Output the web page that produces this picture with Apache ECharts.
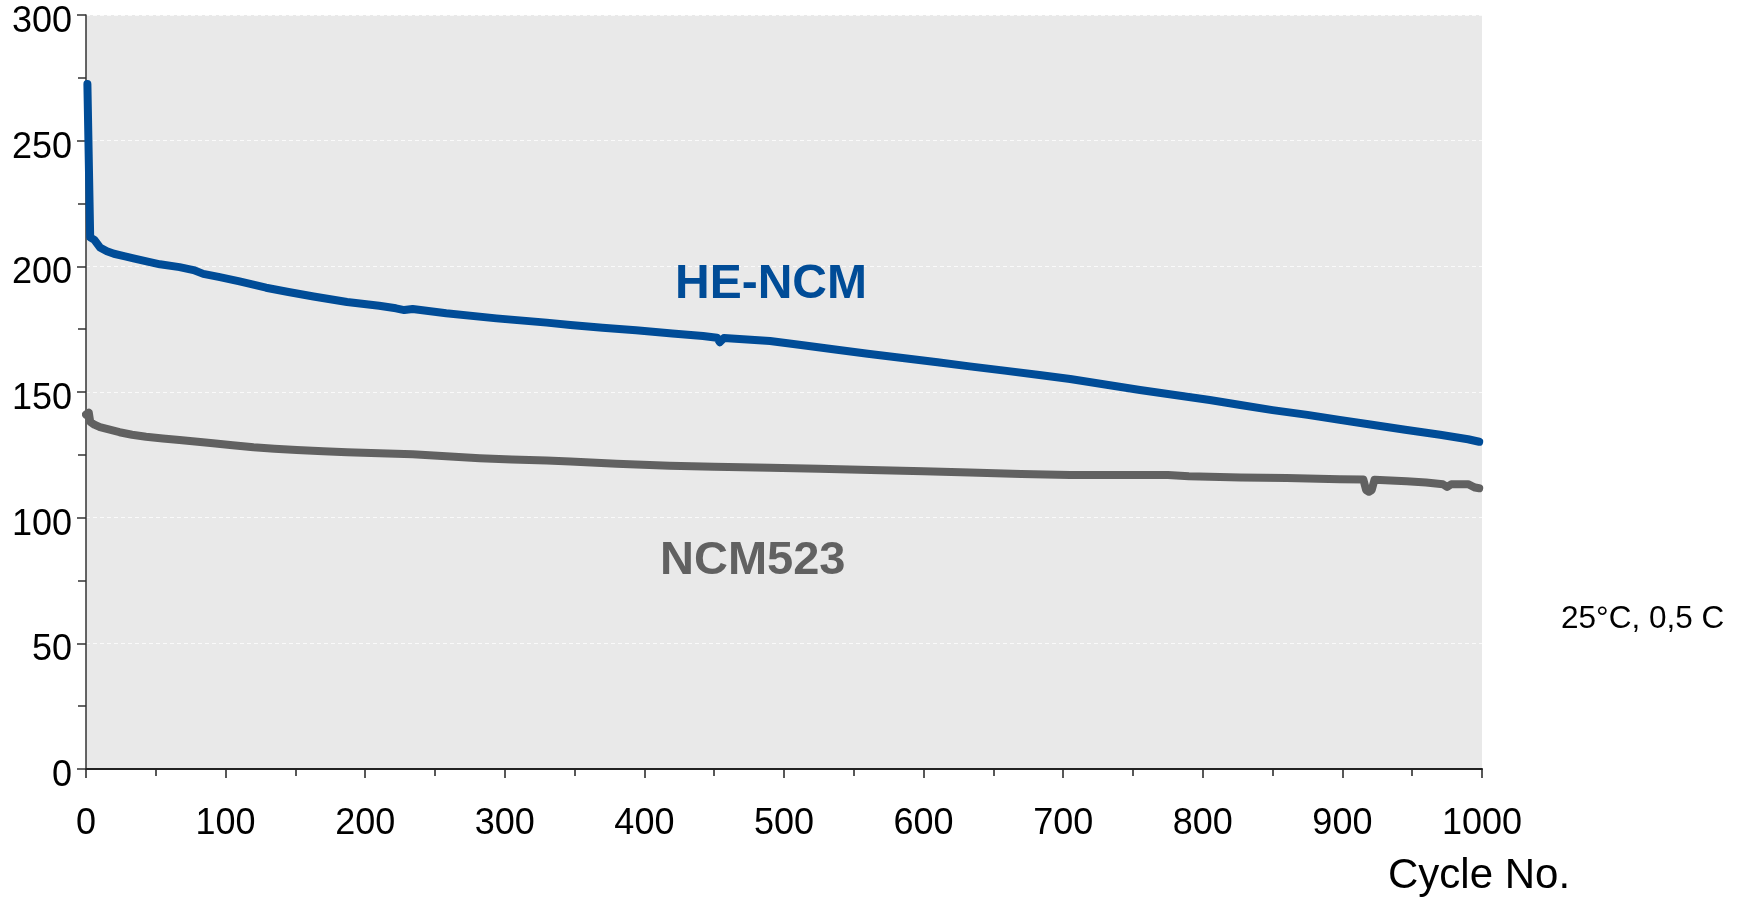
<!DOCTYPE html>
<html>
<head>
<meta charset="utf-8">
<script src="https://cdn.jsdelivr.net/npm/echarts@6/dist/echarts.min.js"></script>
<style>
html,body{margin:0;padding:0;background:#fff;}
#chart{width:1742px;height:904px;}
</style>
</head>
<body>
<div id="chart"></div>
<script>
// Cycle number / capacity readings
const heNcmCycles = [1,3,6,10,15,20,28,34,45,53,67,77,84,95,110,129,145,163,187,210,222,228,234,258,294,330,347,370,394,420,442,452,454,457,490,515,538,560,585,610,633,658,683,705,730,755,780,805,827,850,875,898,920,945,970,990,998];
const heNcmValues = [272.5,211.5,210.5,207.5,206,205,204,203.2,201.8,200.8,199.7,198.5,197,195.8,194,191.5,189.8,188,185.8,184.3,183.3,182.6,183,181.3,179.3,177.6,176.7,175.6,174.6,173.3,172.3,171.6,169.8,171.5,170.3,168.5,166.8,165.2,163.5,161.8,160.2,158.5,156.8,155.2,153,150.8,148.8,146.8,144.8,142.8,140.9,138.9,137.1,135,133,131.2,130.2];

const ncmCycles = [0,2,3,6,10,17,24,33,43,55,67,80,91,105,120,135,151,170,187,210,234,255,282,305,330,347,380,418,450,490,525,562,600,633,670,705,730,755,775,790,827,860,898,915,917,919,921,923,946,960,972,975,978,990,995,998];
const ncmValues = [141,141.8,138.2,137,136,135,134,133,132.2,131.5,130.9,130.2,129.6,128.8,128,127.4,126.9,126.4,126,125.6,125.2,124.5,123.6,123.1,122.7,122.3,121.5,120.7,120.3,119.9,119.5,119,118.5,118,117.4,117,117,117,117,116.5,116,115.8,115.3,115.2,111,110.3,111,115.1,114.5,114,113.3,112.2,113.3,113.3,112,111.7];

const xTicks = {min: 0, max: 1000, interval: 100};
const yTicks = {min: 0, max: 300, interval: 50};

const seriesNames = ['HE-NCM', 'NCM523'];
const axisTitle = 'Cycle No.';
const conditionText = '25°C, 0,5 C';

const FONT = "'Liberation Sans', Arial, sans-serif";
const BLUE = '#004c97';
const GREY = '#616161';

const zip = (a, b) => a.map((v, i) => [v, b[i]]);

const chart = echarts.init(document.getElementById('chart'));
chart.setOption({
  backgroundColor: '#ffffff',
  animation: false,
  grid: {
    left: 86, top: 15, right: 260, bottom: 135,
    show: true, backgroundColor: '#e9e9e9', borderWidth: 0
  },
  xAxis: {
    type: 'value',
    min: xTicks.min, max: xTicks.max, interval: xTicks.interval,
    axisLine: {show: true, onZero: false, lineStyle: {color: '#222', width: 2}},
    axisTick: {show: true, inside: false, length: 9, lineStyle: {color: '#222', width: 1.5}},
    minorTick: {show: true, splitNumber: 2, length: 7, lineStyle: {color: '#222', width: 1.5}},
    splitLine: {show: false},
    axisLabel: {margin: 37, fontSize: 36, color: '#000', fontFamily: FONT,
      formatter: v => String(v)}
  },
  yAxis: {
    type: 'value',
    min: yTicks.min, max: yTicks.max, interval: yTicks.interval,
    axisLine: {show: true, lineStyle: {color: '#333', width: 1.5}},
    axisTick: {show: true, inside: false, length: 9, lineStyle: {color: '#333', width: 1.5}},
    minorTick: {show: true, splitNumber: 2, length: 8, lineStyle: {color: '#333', width: 1.5}},
    splitLine: {show: true, lineStyle: {color: 'rgba(255,255,255,0.75)', width: 1, type: [4, 3]}},
    axisLabel: {margin: 14, color: '#000',
      formatter: v => '{v|' + v + '}',
      rich: {v: {fontSize: 36, fontFamily: FONT, color: '#000', padding: [14, 0, 0, 0]}}}
  },
  series: [
    {
      name: seriesNames[0], type: 'line', showSymbol: false, symbol: 'none',
      data: zip(heNcmCycles, heNcmValues),
      lineStyle: {color: BLUE, width: 8, join: 'round', cap: 'round'},
      z: 3
    },
    {
      name: seriesNames[1], type: 'line', showSymbol: false, symbol: 'none',
      data: zip(ncmCycles, ncmValues),
      lineStyle: {color: GREY, width: 8, join: 'round', cap: 'round'},
      z: 2
    }
  ],
  graphic: [
    {type: 'text', left: 675, top: 261, z: 10,
      style: {text: seriesNames[0], font: "bold 48px " + FONT, fill: BLUE}},
    {type: 'text', left: 660, top: 538, z: 10,
      style: {text: seriesNames[1], font: "bold 47px " + FONT, fill: GREY}},
    {type: 'text', left: 1388, top: 855, z: 10,
      style: {text: axisTitle, font: "42px " + FONT, fill: '#000'}},
    {type: 'text', left: 1561, top: 603, z: 10,
      style: {text: conditionText, font: "31.5px " + FONT, fill: '#000'}}
  ]
});
</script>
</body>
</html>
